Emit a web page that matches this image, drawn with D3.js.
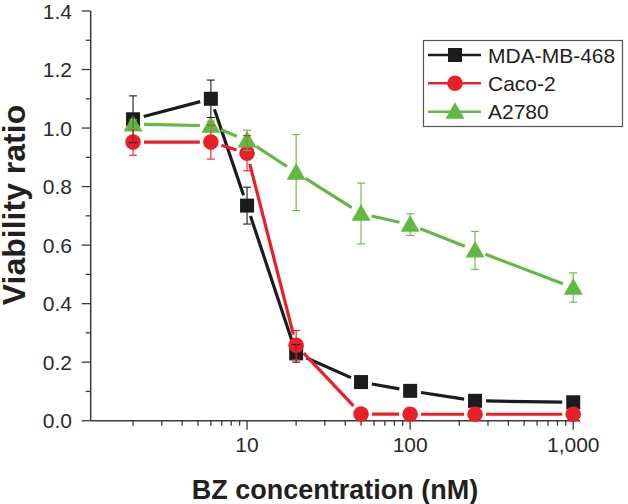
<!DOCTYPE html>
<html>
<head>
<meta charset="utf-8">
<script src="https://cdn.jsdelivr.net/npm/d3@7"></script>
<style>
  html, body { margin: 0; padding: 0; background: #fff; }
  svg { display: block; }
</style>
</head>
<body>
<svg id="chart" width="628" height="504"></svg>
<script>
// ---------------- data ----------------
const concentrations = [2, 6, 10, 20, 50, 100, 250, 1000];
const seriesNames = ["MDA-MB-468", "Caco-2", "A2780"];
const mdaValues  = [1.03, 1.10, 0.735, 0.23, 0.132, 0.102, 0.068, 0.063];
const mdaErrors  = [0.08, 0.064, 0.063, 0.03, 0, 0, 0, 0];
const cacoValues = [0.952, 0.952, 0.914, 0.258, 0.023, 0.022, 0.022, 0.022];
const cacoErrors = [0.045, 0.058, 0.06, 0.05, 0, 0, 0, 0];
const a2780Values = [1.013, 1.008, 0.958, 0.848, 0.708, 0.670, 0.582, 0.455];
const a2780Errors = [0.015, 0.015, 0.035, 0.13, 0.104, 0.037, 0.065, 0.05];
const yTicks = [0.0, 0.2, 0.4, 0.6, 0.8, 1.0, 1.2, 1.4];
const xTicks = [10, 100, 1000];
const xTickLabels = ["10", "100", "1,000"];
const xTitle = "BZ concentration (nM)";
const yTitle = "Viability ratio";

const colors = { black: "#1c1c1c", red: "#e8202a", green: "#63b843" };

const series = [
  { name: seriesNames[0], values: mdaValues, errors: mdaErrors, color: colors.black, shape: "square" },
  { name: seriesNames[1], values: cacoValues, errors: cacoErrors, color: colors.red, shape: "circle" },
  { name: seriesNames[2], values: a2780Values, errors: a2780Errors, color: colors.green, shape: "triangle" }
];

// ---------------- layout ----------------
const svg = d3.select("#chart");
const axisColor = "#3a3a3a";
const fontFam = "'Liberation Sans', Arial, Helvetica, sans-serif";

const x = d3.scaleLog().domain([1.1, 1100]).range([90.7, 580]);
const y = d3.scaleLinear().domain([0, 1.4]).range([420.7, 11]);

// ---------------- axes ----------------
const yMinor = d3.range(0, 1.41, 0.1).map(v => +v.toFixed(2));
const yAxisG = svg.append("g");
yAxisG.selectAll("line.minor").data(yMinor).join("line")
  .attr("x1", x.range()[0]).attr("x2", d => x.range()[0] - (yTicks.some(t => Math.abs(t - d) < 1e-6) ? 9 : 5))
  .attr("y1", d => y(d)).attr("y2", d => y(d))
  .attr("stroke", axisColor).attr("stroke-width", 1.3);
yAxisG.append("line")
  .attr("x1", x.range()[0]).attr("x2", x.range()[0])
  .attr("y1", y(0)).attr("y2", y(1.4))
  .attr("stroke", axisColor).attr("stroke-width", 1.5);
yAxisG.selectAll("text").data(yTicks).join("text")
  .attr("x", 72).attr("y", d => y(d)).attr("dy", "0.36em")
  .attr("text-anchor", "end")
  .attr("font-family", fontFam).attr("font-size", 21).attr("fill", "#2a2a2a")
  .text(d => d.toFixed(1));

const xMinor = [];
[1, 10, 100].forEach(dec => { for (let k = 2; k <= 9; k++) xMinor.push(k * dec); });
const xAxisG = svg.append("g");
xAxisG.selectAll("line.minor").data(xMinor).join("line")
  .attr("x1", d => x(d)).attr("x2", d => x(d))
  .attr("y1", y(0)).attr("y2", y(0) + 5)
  .attr("stroke", axisColor).attr("stroke-width", 1.3);
xAxisG.selectAll("line.major").data(xTicks).join("line")
  .attr("x1", d => x(d)).attr("x2", d => x(d))
  .attr("y1", y(0)).attr("y2", y(0) + 9)
  .attr("stroke", axisColor).attr("stroke-width", 1.3);
xAxisG.append("line")
  .attr("x1", x.range()[0]).attr("x2", x.range()[1])
  .attr("y1", y(0)).attr("y2", y(0))
  .attr("stroke", axisColor).attr("stroke-width", 1.5);
xAxisG.selectAll("text").data(xTicks).join("text")
  .attr("x", d => x(d)).attr("y", 452)
  .attr("text-anchor", "middle")
  .attr("font-family", fontFam).attr("font-size", 21).attr("fill", "#2a2a2a")
  .text((d, i) => xTickLabels[i]);

// titles
svg.append("text")
  .attr("x", 335).attr("y", 499)
  .attr("text-anchor", "middle")
  .attr("font-family", fontFam).attr("font-size", 27).attr("font-weight", "bold").attr("fill", "#231f20")
  .text(xTitle);
svg.append("text")
  .attr("transform", "translate(25,205) rotate(-90)")
  .attr("text-anchor", "middle")
  .attr("font-family", fontFam).attr("font-size", 32).attr("font-weight", "bold").attr("fill", "#231f20")
  .text(yTitle);

// ---------------- marks ----------------
function drawMarker(g, shape, cx, cy, color) {
  if (shape === "square") {
    g.append("rect").attr("x", cx - 7).attr("y", cy - 7).attr("width", 14).attr("height", 14).attr("fill", color);
  } else if (shape === "circle") {
    g.append("circle").attr("cx", cx).attr("cy", cy).attr("r", 7.8).attr("fill", color);
  } else {
    const s = 9.5;
    g.append("path").attr("d", `M${cx},${cy - s}L${cx + s},${cy + s * 0.75}L${cx - s},${cy + s * 0.75}Z`).attr("fill", color);
  }
}

const gap = 11;
const linesG = svg.append("g");
const markersG = svg.append("g");
const errG = svg.append("g");

series.forEach(s => {
  const pts = concentrations.map((c, i) => [x(c), y(s.values[i])]);
  // line segments with gaps near markers
  for (let i = 0; i < pts.length - 1; i++) {
    const [x1, y1] = pts[i], [x2, y2] = pts[i + 1];
    const dx = x2 - x1, dy = y2 - y1, len = Math.hypot(dx, dy);
    if (len <= 2 * gap) continue;
    const ux = dx / len, uy = dy / len;
    linesG.append("line")
      .attr("x1", x1 + ux * gap).attr("y1", y1 + uy * gap)
      .attr("x2", x2 - ux * gap).attr("y2", y2 - uy * gap)
      .attr("stroke", s.color).attr("stroke-width", 3.2);
  }
  pts.forEach(([px, py]) => drawMarker(markersG, s.shape, px, py, s.color));
  // error bars
  concentrations.forEach((c, i) => {
    const e = s.errors[i];
    if (!e) return;
    const px = x(c), top = y(s.values[i] + e), bot = y(s.values[i] - e);
    errG.append("line").attr("x1", px).attr("x2", px).attr("y1", top).attr("y2", bot)
      .attr("stroke", s.color).attr("stroke-width", 1.1);
    [top, bot].forEach(yy => errG.append("line")
      .attr("x1", px - 4).attr("x2", px + 4).attr("y1", yy).attr("y2", yy)
      .attr("stroke", s.color).attr("stroke-width", 1.1));
  });
});

// ---------------- legend ----------------
const lg = svg.append("g");
lg.append("rect").attr("x", 423.5).attr("y", 40.5).attr("width", 199).attr("height", 86)
  .attr("fill", "#fff").attr("stroke", "#555").attr("stroke-width", 1.2);
const rowY = [55, 83.3, 111.7];
series.forEach((s, i) => {
  const ry = rowY[i];
  lg.append("line").attr("x1", 428).attr("x2", 481).attr("y1", ry).attr("y2", ry)
    .attr("stroke", s.color).attr("stroke-width", 2.5);
  drawMarker(lg, s.shape, 455, ry, s.color);
  lg.append("text").attr("x", 488).attr("y", ry).attr("dy", "0.36em")
    .attr("font-family", fontFam).attr("font-size", 21).attr("fill", "#231f20")
    .text(s.name);
});
</script>
</body>
</html>
